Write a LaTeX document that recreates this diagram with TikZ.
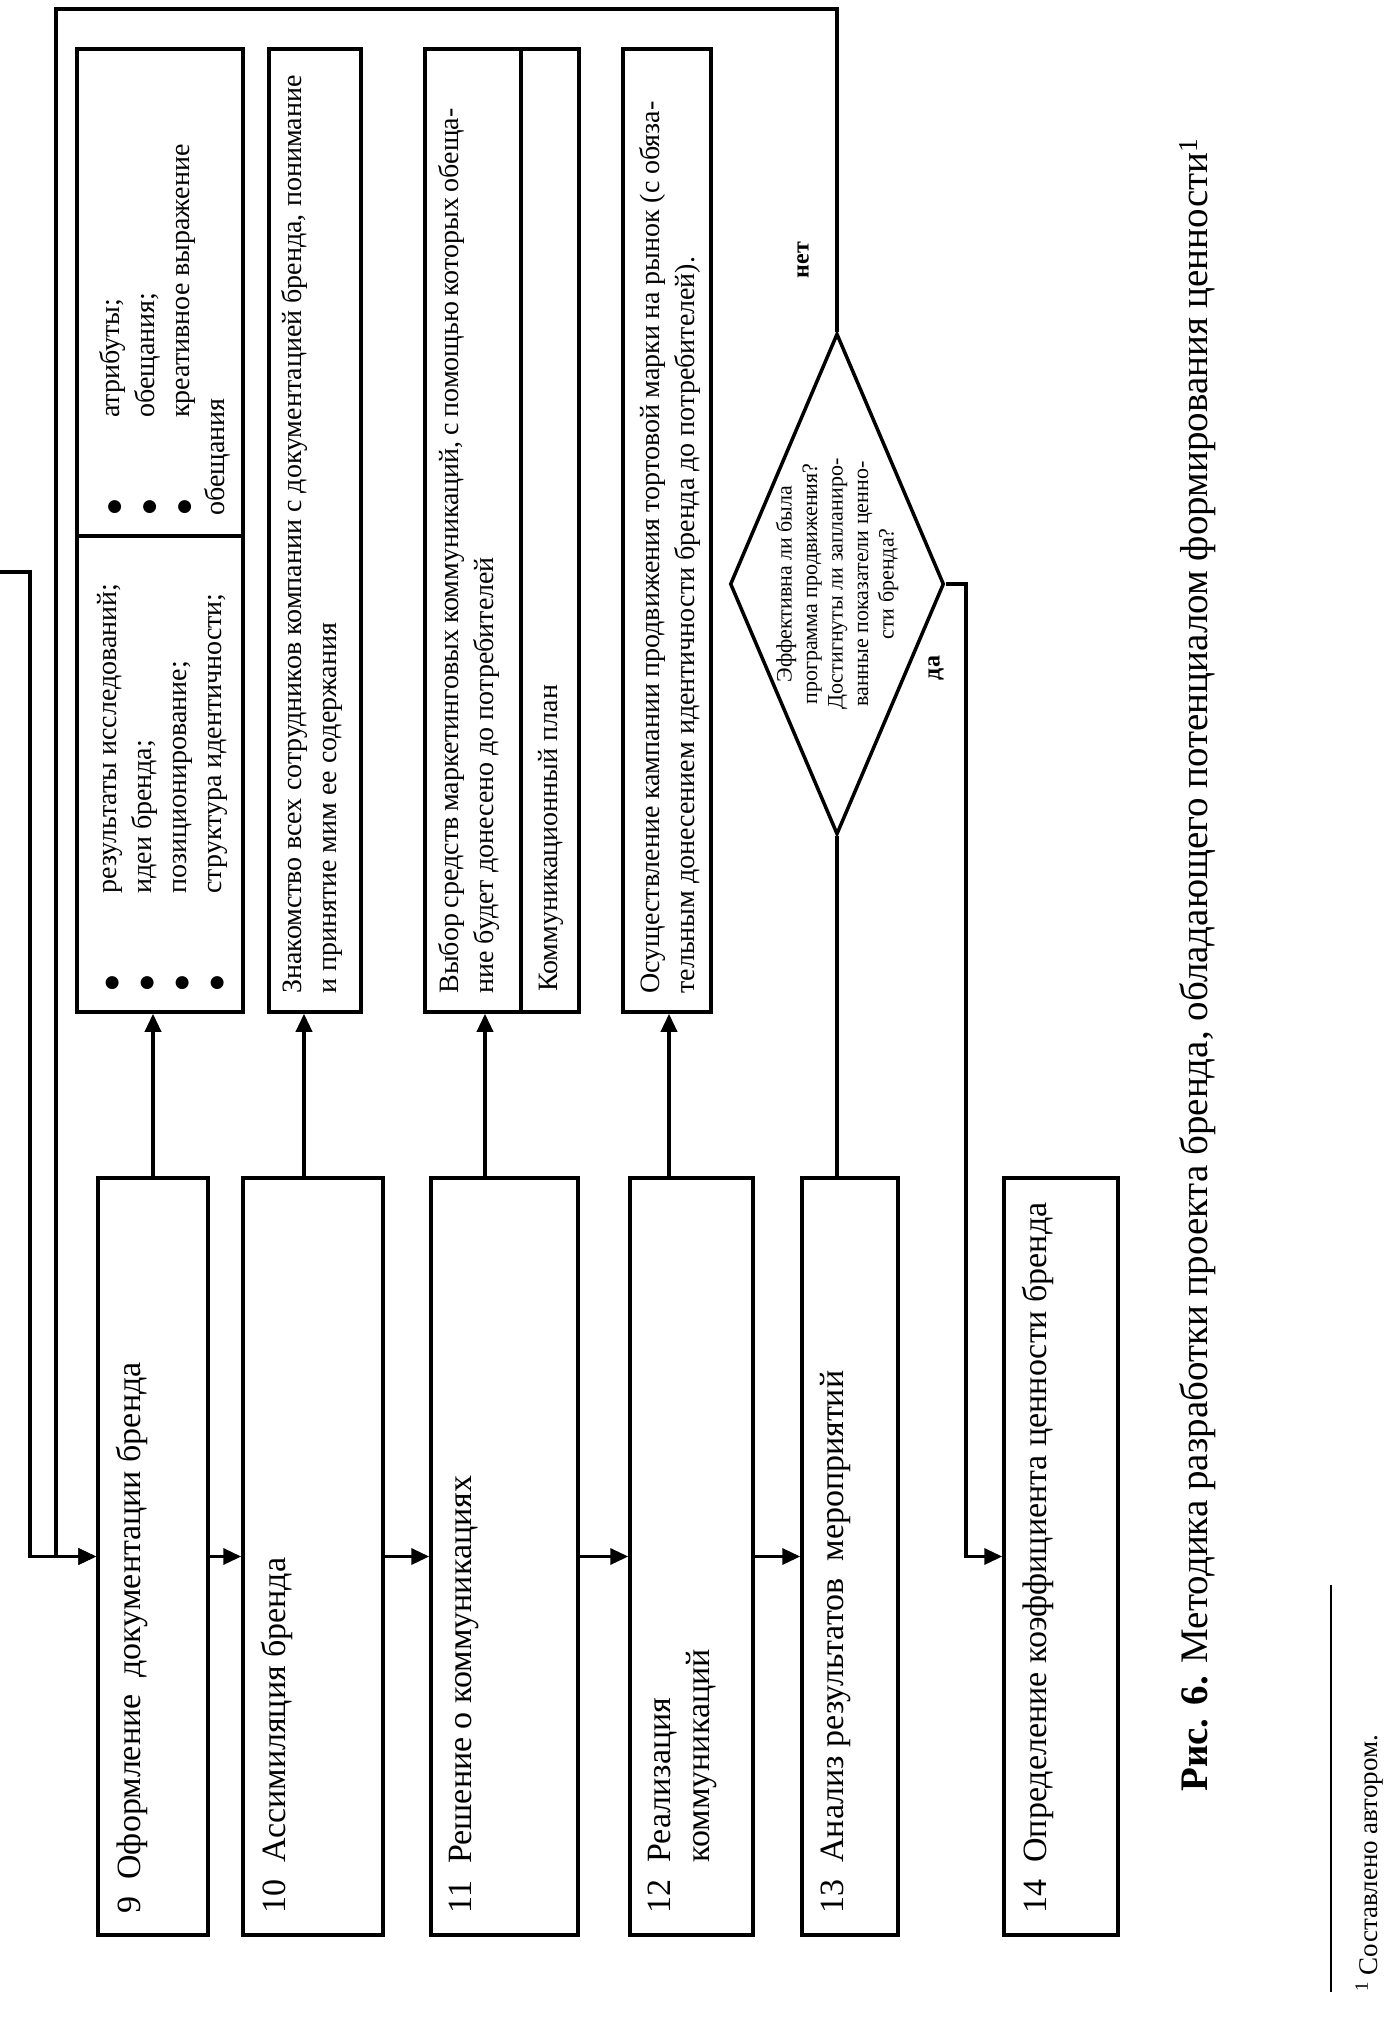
\documentclass[tikz,border=0pt]{standalone}
\usepackage{fontspec}
\setmainfont{Liberation Serif}
\newfontfamily\dotfont{DejaVu Sans}
\usetikzlibrary{arrows.meta,shapes.geometric}

\newcommand{\blt}{\makebox[98pt][l]{\hspace{1pt}{\dotfont\fontsize{17}{17}\selectfont ●}}}

\tikzset{
  blk/.style={draw, line width=3.5pt, inner sep=0pt},
  line/.style={line width=3.5pt},
  arr/.style={line width=3.5pt, -{Triangle[length=18pt,width=16pt]}},
  mtxt/.style={rotate=90, inner sep=0pt, align=left, font=\fontsize{34}{39}\selectfont},
  stxt/.style={rotate=90, inner sep=0pt, align=left, font=\fontsize{28}{35}\selectfont},
  dtxt/.style={rotate=90, inner sep=0pt, align=center, font=\fontsize{22}{25.5}\selectfont},
  yn/.style={rotate=90, inner sep=0pt, font=\bfseries\fontsize{24}{28}\selectfont}
}

\begin{document}
\begin{tikzpicture}[x=1pt,y=-1pt]
\useasboundingbox (0,0) rectangle (1386,2017);

% main steps
\node[blk, minimum width=110pt, minimum height=757pt] (b9) at (153,1556.5) {};
\node[blk, minimum width=140pt, minimum height=757pt] (b10) at (313,1556.5) {};
\node[blk, minimum width=147pt, minimum height=757pt] (b11) at (504.5,1556.5) {};
\node[blk, minimum width=123pt, minimum height=757pt] (b12) at (691.5,1556.5) {};
\node[blk, minimum width=96pt, minimum height=757pt] (b13) at (850,1556.5) {};
\node[blk, minimum width=114pt, minimum height=757pt] (b14) at (1061,1556.5) {};

\node[mtxt, anchor=north west] (t9) at ([shift={(20,-23)}]b9.south west) {9\ \ Оформление\ \ документации бренда};
\node[mtxt, anchor=north west] (t10) at ([shift={(20,-23)}]b10.south west) {10\ \ Ассимиляция бренда};
\node[mtxt, anchor=north west] (t11) at ([shift={(20,-23)}]b11.south west) {11\ \ Решение о коммуникациях};
\node[mtxt, anchor=north west] (t12) at ([shift={(20,-23)}]b12.south west) {12\ \ Реализация\\\hphantom{12\ \ }коммуникаций};
\node[mtxt, anchor=north west] (t13) at ([shift={(20,-23)}]b13.south west) {13\ \ Анализ результатов\ \ мероприятий};
\node[mtxt, anchor=north west] (t14) at ([shift={(20,-23)}]b14.south west) {14\ \ Определение коэффициента ценности бренда};

% side boxes
\node[blk, minimum width=166pt, minimum height=963pt] (s9) at (160,530.5) {};
\node[blk, minimum width=92pt, minimum height=963pt] (s10) at (315,530.5) {};
\node[blk, minimum width=154pt, minimum height=963pt] (s11) at (502,530.5) {};
\node[blk, minimum width=88pt, minimum height=963pt] (s12) at (667,530.5) {};
\coordinate (s9cut) at (77,536);
\coordinate (s11cut) at (521,1012);
\draw[line] (s9cut) -- (s9cut -| s9.east);
\draw[line] (s11cut) -- (s11cut |- s11.north);

\node[stxt, anchor=north west] (ts9a) at ([shift={(22,-22)}]s9.south west)
  {\blt результаты исследований;\\\blt идеи бренда;\\\blt позиционирование;\\\blt структура идентичности;};
\node[stxt, anchor=north west] (ts9b) at ([shift={(22,-20)}]s9cut)
  {\blt атрибуты;\\\blt обещания;\\\blt креативное выражение\\обещания};
\node[stxt, anchor=north west] (ts10) at ([shift={(14,-20)}]s10.south west)
  {\makebox[918pt][s]{Знакомство всех сотрудников компании с документацией бренда, понимание}\\и принятие мим ее содержания};
\node[stxt, anchor=north west] (ts11a) at ([shift={(15,-20)}]s11.south west)
  {\makebox[885pt][s]{Выбор средств маркетинговых коммуникаций, с помощью которых обеща-}\\ние будет донесено до потребителей};
\node[stxt, anchor=north west] (ts11b) at ([shift={(17,-20)}]s11cut) {Коммуникационный план};
\node[stxt, anchor=north west] (ts12) at ([shift={(18,-20)}]s12.south west)
  {\makebox[892pt][s]{Осуществление кампании продвижения тортовой марки на рынок (с обяза-}\\тельным донесением идентичности бренда до потребителей).};

% decision
\node[draw, diamond, line width=3.5pt, inner sep=0pt, minimum width=214pt, minimum height=501pt] (dia) at (837,584) {};
\node[dtxt] (q) at (dia.center) {Эффективна ли была\\программа продвижения?\\Достигнуты ли запланиро-\\ванные показатели ценно-\\сти бренда?};
\node[yn] (no) at (803,260) {нет};
\node[yn] (yes) at (936,668) {да};

% connectors
\coordinate (prev) at (0,572);
\coordinate (loop) at (56,9);
\coordinate (yesx) at (966,1000);
\draw[arr] (prev) -| (30,1556.5) -- (b9.west);
\draw[arr] (dia.north) |- (loop) |- (b9.west);
\draw[arr] (b9.east) -- (b10.west);
\draw[arr] (b10.east) -- (b11.west);
\draw[arr] (b11.east) -- (b12.west);
\draw[arr] (b12.east) -- (b13.west);
\draw[line] (dia.south) -- (dia.south |- b13.north);
\draw[arr] (dia.east) -| (yesx) |- (b14.west);

\coordinate (u10) at ([xshift=-9pt]b10.north);
\coordinate (u11) at ([xshift=-19.5pt]b11.north);
\coordinate (u12) at ([xshift=-22.5pt]b12.north);
\draw[arr] (b9.north) -- (b9.north |- s9.south);
\draw[arr] (u10) -- (u10 |- s10.south);
\draw[arr] (u11) -- (u11 |- s11.south);
\draw[arr] (u12) -- (u12 |- s12.south);

% caption and footnote
\node[rotate=90, anchor=base west, inner sep=0pt, font=\fontsize{39}{45}\selectfont] (cap) at (1207,1792)
  {\textbf{Рис. 6.} Методика разработки проекта бренда, обладающего потенциалом формирования ценности\textsuperscript{1}};
\coordinate (fn1) at (1331,1585);
\coordinate (fn2) at (1331,1992);
\draw[line width=2pt] (fn1) -- (fn2);
\node[rotate=90, anchor=base west, inner sep=0pt, font=\fontsize{27}{31}\selectfont] (fn) at (1377,1992)
  {\textsuperscript{1} Составлено автором.};
\end{tikzpicture}
\end{document}
